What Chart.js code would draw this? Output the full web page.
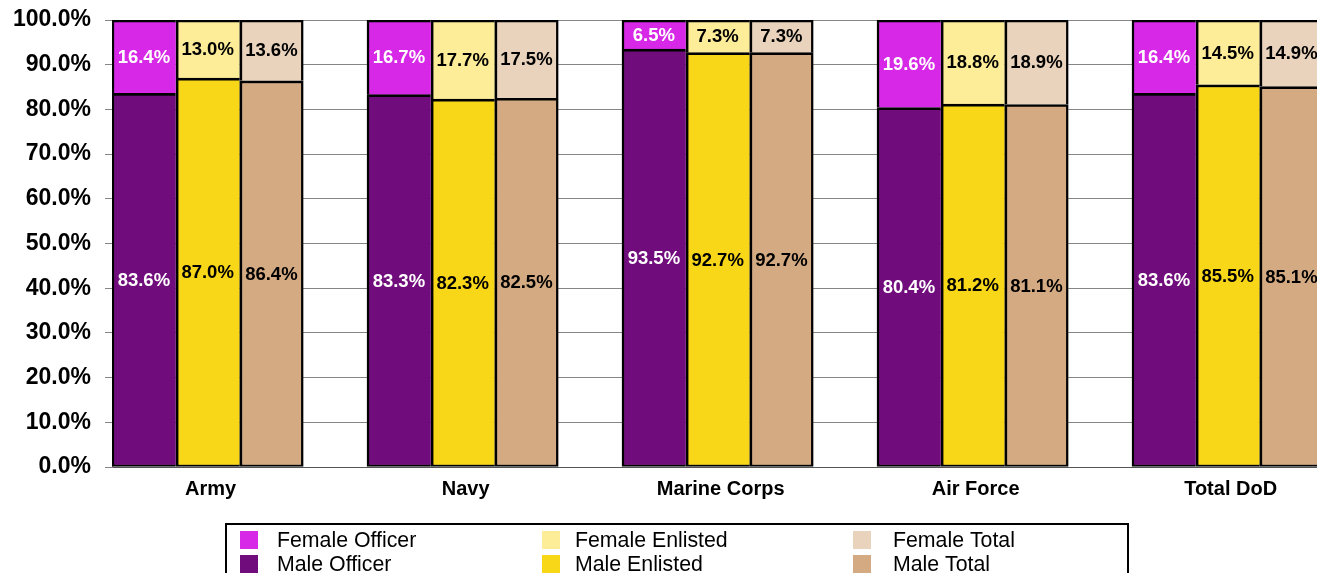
<!DOCTYPE html>
<html>
<head>
<meta charset="utf-8">
<script src="https://cdn.jsdelivr.net/npm/chart.js@4/dist/chart.umd.min.js"></script>
<style>
  html, body { margin: 0; padding: 0; background: #fff; overflow: hidden; }
  #wrap { position: absolute; left: 0; top: 0; width: 1400px; height: 573px; }
</style>
</head>
<body>
<div id="wrap"><canvas id="c" width="1400" height="573"></canvas></div>
<script>
// ---- data ----
const categories = ['Army', 'Navy', 'Marine Corps', 'Air Force', 'Total DoD'];
const maleOfficer    = [83.6, 83.3, 93.5, 80.4, 83.6];
const femaleOfficer  = [16.4, 16.7, 6.5, 19.6, 16.4];
const maleEnlisted   = [87.0, 82.3, 92.7, 81.2, 85.5];
const femaleEnlisted = [13.0, 17.7, 7.3, 18.8, 14.5];
const maleTotal      = [86.4, 82.5, 92.7, 81.1, 85.1];
const femaleTotal    = [13.6, 17.5, 7.3, 18.9, 14.9];
const yTickValues = [0, 10, 20, 30, 40, 50, 60, 70, 80, 90, 100];

// ---- build slot layout: 3 bars + 1 blank slot per category ----
const SLOTS = 4;
const slotLabels = [];
categories.forEach(c => { for (let p = 0; p < SLOTS; p++) slotLabels.push(p === 1 ? c : ''); });
function spread(values, pos) {
  const out = new Array(categories.length * SLOTS).fill(null);
  values.forEach((v, g) => { out[g * SLOTS + pos] = v; });
  return out;
}
function bw(pos, female) {
  return { left: pos === 0 ? 2.5 : 3, top: 2.7, right: pos === 2 ? 2.5 : 0, bottom: female ? 0 : 2 };
}
const datasets = [
  { label: 'Male Officer',    data: spread(maleOfficer, 0),    backgroundColor: '#710C7C', labelColor: '#fff', borderWidth: bw(0, false) },
  { label: 'Female Officer',  data: spread(femaleOfficer, 0),  backgroundColor: '#D628E6', labelColor: '#fff', borderWidth: bw(0, true) },
  { label: 'Male Enlisted',   data: spread(maleEnlisted, 1),   backgroundColor: '#F8D718', labelColor: '#000', borderWidth: bw(1, false) },
  { label: 'Female Enlisted', data: spread(femaleEnlisted, 1), backgroundColor: '#FDEC98', labelColor: '#000', borderWidth: bw(1, true) },
  { label: 'Male Total',      data: spread(maleTotal, 2),      backgroundColor: '#D4AA82', labelColor: '#000', borderWidth: bw(2, false) },
  { label: 'Female Total',    data: spread(femaleTotal, 2),    backgroundColor: '#E9D3BC', labelColor: '#000', borderWidth: bw(2, true) }
];
datasets.forEach(d => { d.borderColor = '#000'; d.borderSkipped = false; d.categoryPercentage = 1; d.barPercentage = 1; });
const legendOrder = ['Female Officer', 'Female Enlisted', 'Female Total', 'Male Officer', 'Male Enlisted', 'Male Total'];

const FONT = "'Liberation Sans', Arial, sans-serif";

const valueLabels = {
  id: 'valueLabels',
  afterDatasetsDraw(chart) {
    const ctx = chart.ctx;
    ctx.save();
    ctx.font = 'bold 18.5px ' + FONT;
    ctx.textAlign = 'center';
    ctx.textBaseline = 'middle';
    chart.data.datasets.forEach((ds, i) => {
      const meta = chart.getDatasetMeta(i);
      meta.data.forEach((el, j) => {
        const v = ds.data[j];
        if (v === null || v === undefined) return;
        ctx.fillStyle = ds.labelColor;
        ctx.fillText(v.toFixed(1) + '%', el.x, (el.y + el.base) / 2 + 1);
      });
    });
    ctx.restore();
  }
};

const boxLegend = {
  id: 'boxLegend',
  afterDraw(chart) {
    const ctx = chart.ctx;
    ctx.save();
    ctx.strokeStyle = '#000';
    ctx.lineWidth = 2;
    ctx.strokeRect(226, 524, 902, 80);
    const colX = [240, 542, 853];
    const textX = [277, 575, 893];
    const rowY = [540, 564];
    ctx.font = '21.3px ' + FONT;
    ctx.textBaseline = 'middle';
    ctx.textAlign = 'left';
    legendOrder.forEach((name, k) => {
      const ds = chart.data.datasets.find(d => d.label === name);
      const col = k % 3, row = Math.floor(k / 3);
      ctx.fillStyle = ds.backgroundColor;
      ctx.fillRect(colX[col], rowY[row] - 9, 18, 18);
      ctx.fillStyle = '#000';
      ctx.fillText(name, textX[col], rowY[row] + 1);
    });
    ctx.restore();
  }
};

new Chart(document.getElementById('c'), {
  type: 'bar',
  data: { labels: slotLabels, datasets },
  plugins: [valueLabels, boxLegend],
  options: {
    responsive: false,
    animation: false,
    devicePixelRatio: 1,
    layout: { padding: { left: 0, top: 20, right: 13, bottom: 62 } },
    plugins: { legend: { display: false }, tooltip: { enabled: false } },
    scales: {
      x: {
        stacked: true,
        grid: { display: false, drawTicks: false },
        border: { display: true, color: '#555', width: 1 },
        ticks: {
          autoSkip: false, maxRotation: 0, minRotation: 0, padding: 10, labelOffset: 3,
          color: '#000', font: { family: FONT, size: 20, weight: 'bold' }
        }
      },
      y: {
        stacked: true,
        min: 0, max: 100,
        afterFit(scale) { scale.width = 112; scale.paddingTop = 0; scale.paddingBottom = 0; },
        afterBuildTicks(scale) { scale.ticks = yTickValues.map(v => ({ value: v })); },
        grid: { color: '#868686', lineWidth: 1, tickLength: 7, drawTicks: true },
        border: { display: true, color: '#868686', width: 1 },
        ticks: {
          padding: 14, color: '#000',
          font: { family: FONT, size: 23, weight: 'bold' },
          callback: v => v.toFixed(1) + '%'
        }
      }
    }
  }
});
</script>
</body>
</html>
